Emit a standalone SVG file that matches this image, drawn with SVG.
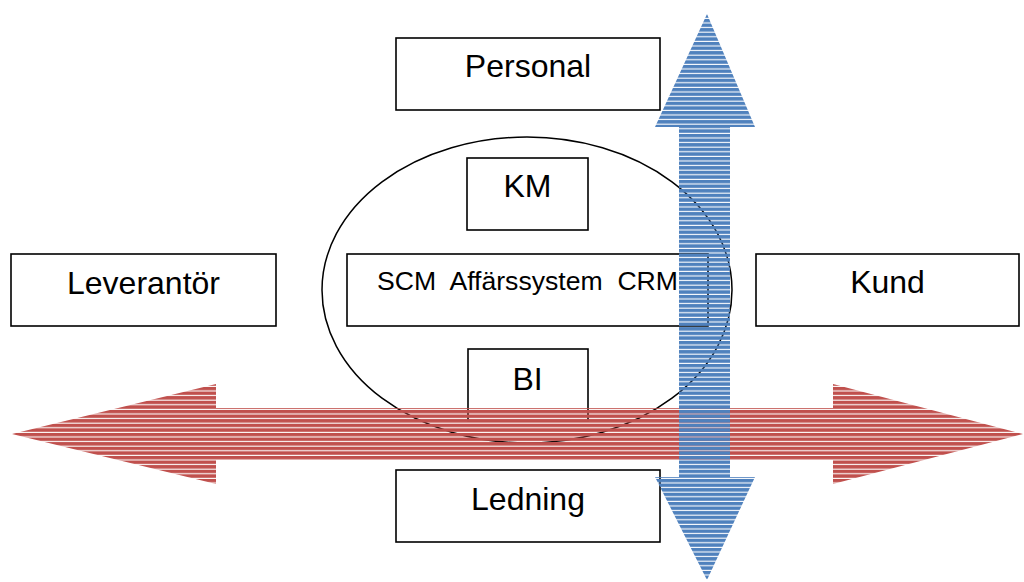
<svg xmlns="http://www.w3.org/2000/svg" width="1024" height="582" viewBox="0 0 1024 582">
  <defs>
    <!-- horizontal stripe fills for the two flow arrows -->
    <pattern id="stripesRed" patternUnits="userSpaceOnUse" x="0" y="0.5" width="8" height="4.6">
      <rect x="0" y="0" width="8" height="3.5" fill="#C0504D"/>
    </pattern>
    <pattern id="stripesBlue" patternUnits="userSpaceOnUse" x="0" y="0.5" width="8" height="4.6">
      <rect x="0" y="0" width="8" height="3.5" fill="#4F81BD"/>
    </pattern>
    <style>
      .box { fill: #ffffff; stroke: #000000; stroke-width: 1.6; }
      .lbl { font-family: "Liberation Sans", Arial, sans-serif; font-size: 32px; fill: #000000; text-anchor: middle; }
      .lbl-sm { font-family: "Liberation Sans", Arial, sans-serif; font-size: 26.6px; fill: #000000; text-anchor: middle; }
    </style>
  </defs>

  <rect width="1024" height="582" fill="#ffffff"/>

  <!-- system boundary -->
  <ellipse id="system-boundary" cx="527" cy="290" rx="205" ry="153" fill="none" stroke="#000000" stroke-width="1.5"/>

  <g id="personal">
    <rect class="box" x="396" y="38" width="264" height="72"/>
    <text class="lbl" x="528" y="77">Personal</text>
  </g>

  <g id="km">
    <rect class="box" x="467" y="158" width="121" height="72"/>
    <text class="lbl" x="527.5" y="197">KM</text>
  </g>

  <g id="leverantor">
    <rect class="box" x="11" y="254" width="265" height="72"/>
    <text class="lbl" x="143.5" y="294">Leverantör</text>
  </g>

  <g id="affarssystem">
    <rect class="box" x="347" y="254" width="361" height="72"/>
    <text class="lbl-sm" x="527.5" y="290" xml:space="preserve">SCM  Affärssystem  CRM</text>
  </g>

  <g id="kund">
    <rect class="box" x="756" y="254" width="263" height="72"/>
    <text class="lbl" x="887.5" y="293">Kund</text>
  </g>

  <g id="bi">
    <rect class="box" x="468" y="349" width="120" height="72"/>
    <text class="lbl" x="527.5" y="390">BI</text>
  </g>

  <g id="ledning">
    <rect class="box" x="396" y="470" width="264" height="72"/>
    <text class="lbl" x="528" y="510">Ledning</text>
  </g>

  <g id="connectors">
    <!-- horizontal flow: Leverantör <-> Kund -->
    <polygon id="flow-horizontal" fill="url(#stripesRed)"
      points="12,434 216,384 216,408 833,408 833,384 1023,434 833,484 833,460 216,460 216,484"/>
    <!-- vertical flow: Personal <-> Ledning -->
    <polygon id="flow-vertical" fill="url(#stripesBlue)"
      points="707,14 755,127 730,127 730,477 755,477 707,580 655,477 679,477 679,127 655,127"/>
  </g>
</svg>
